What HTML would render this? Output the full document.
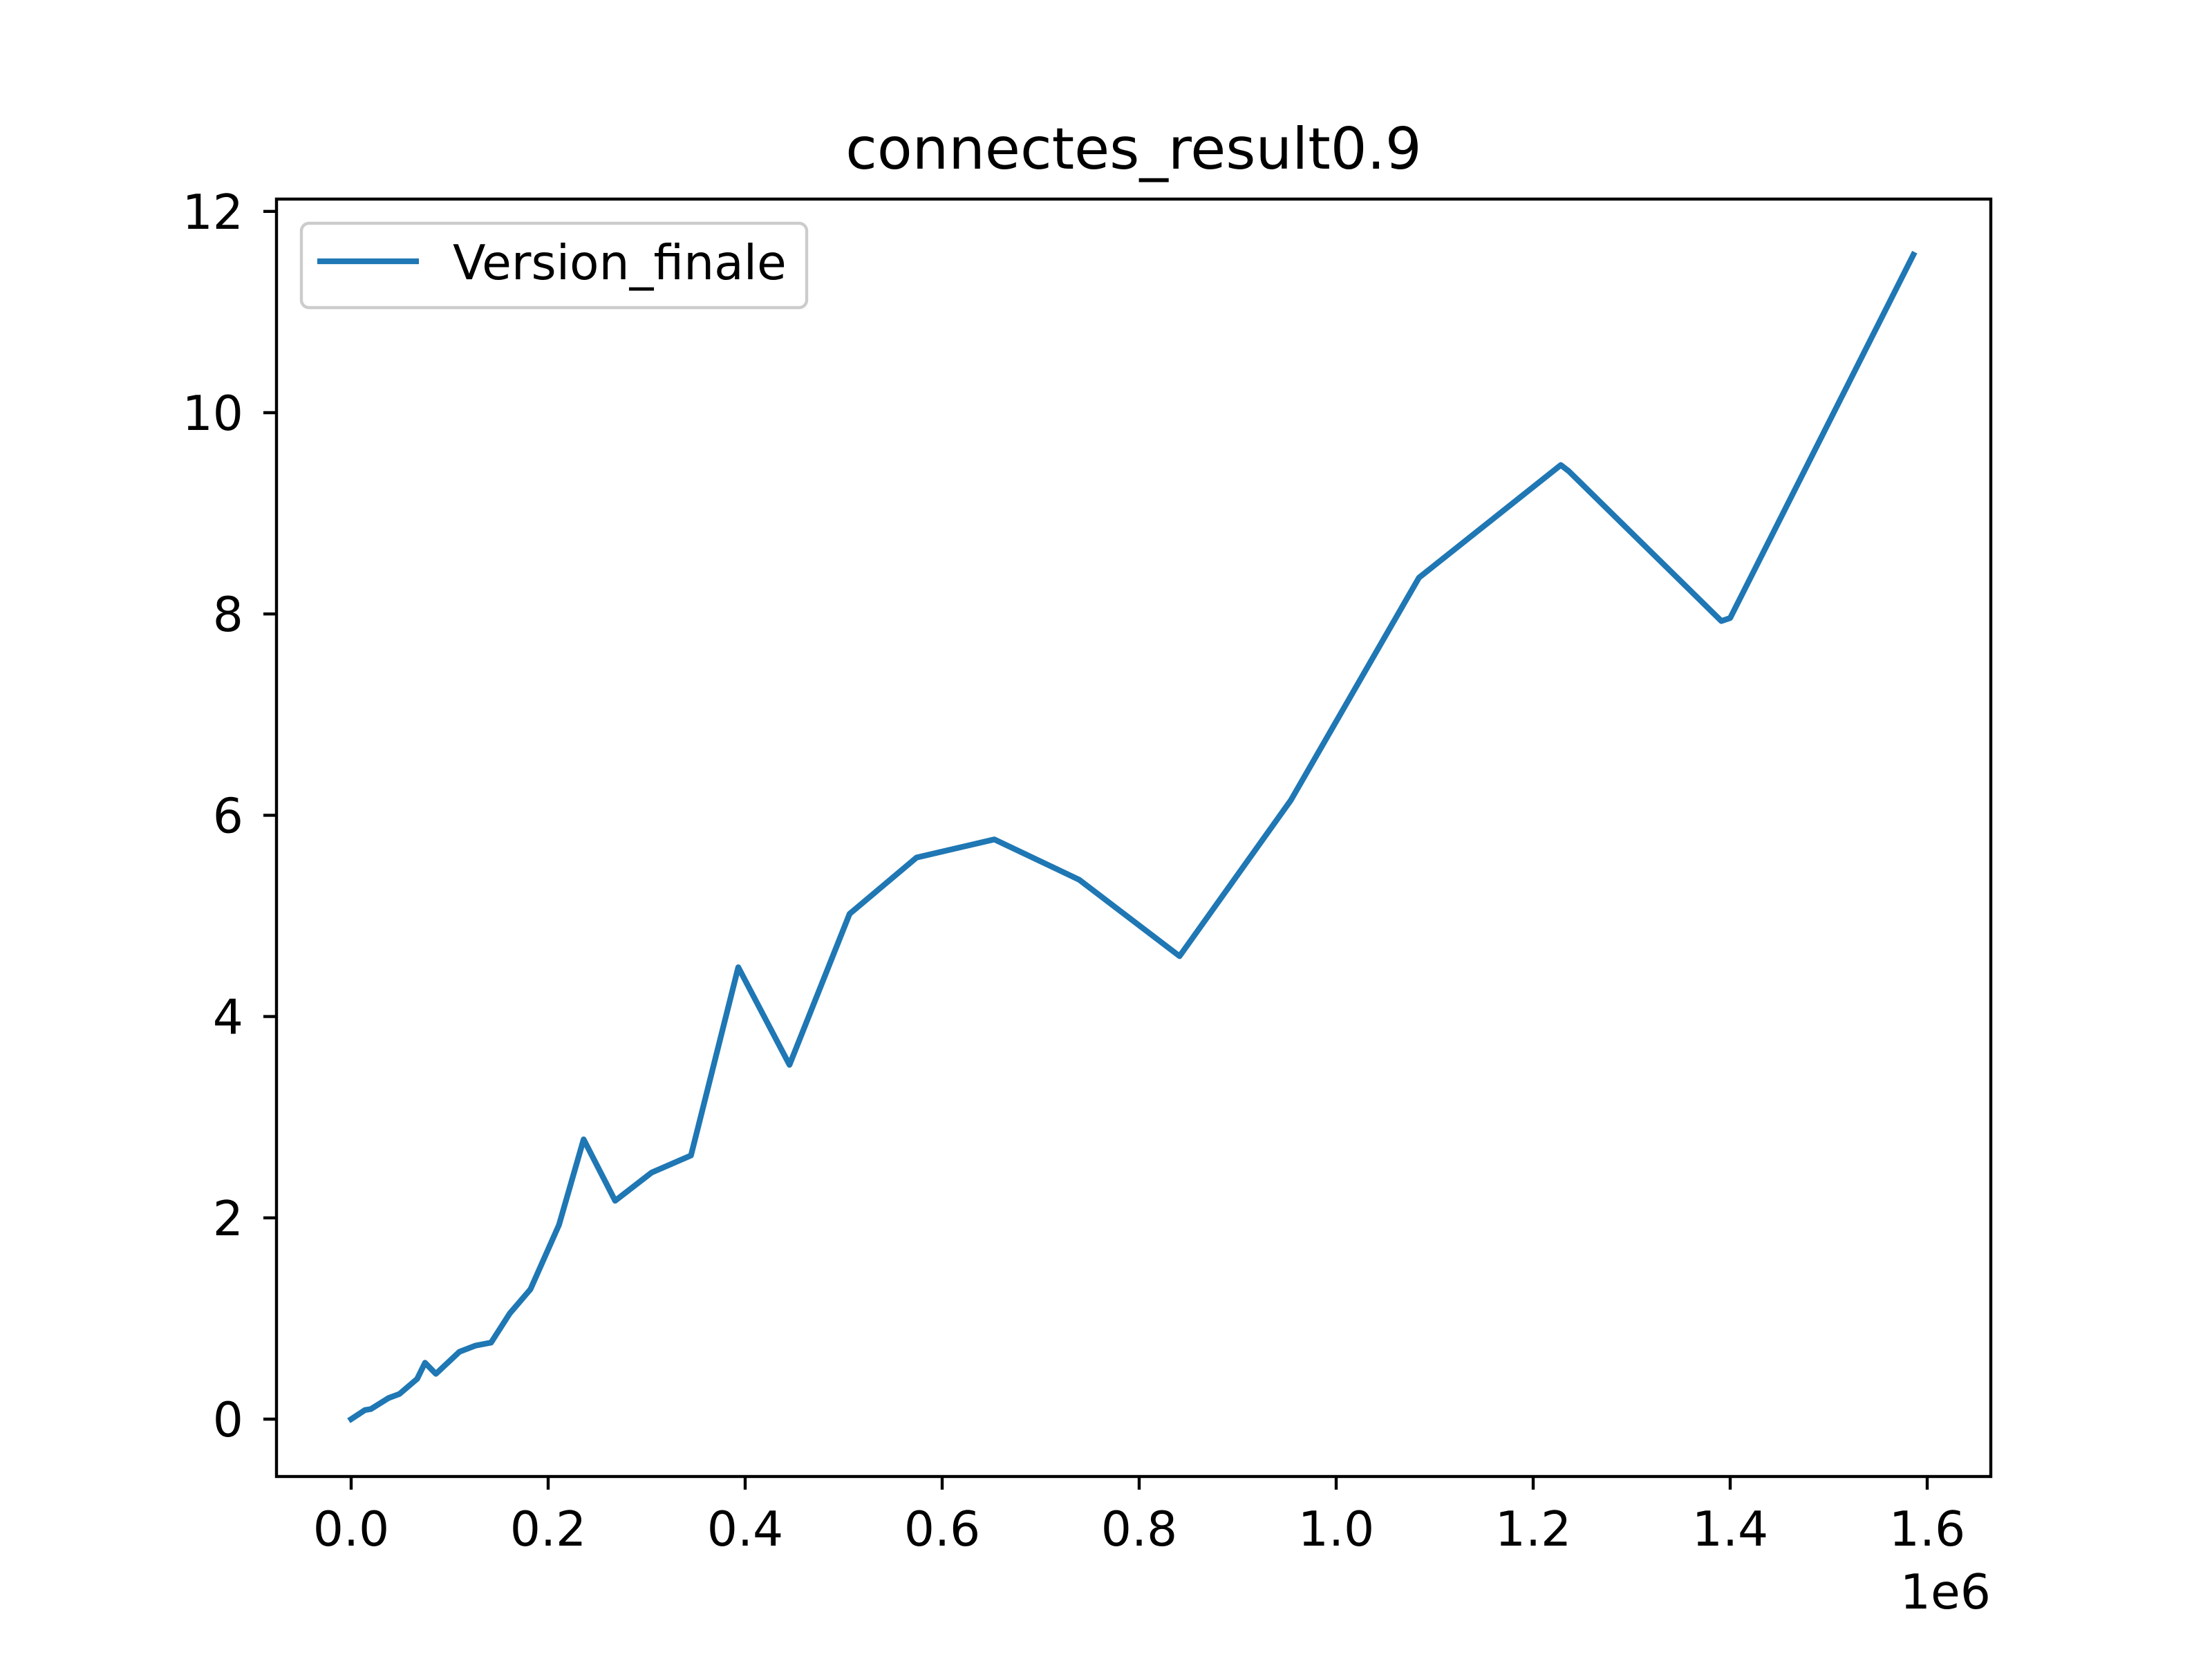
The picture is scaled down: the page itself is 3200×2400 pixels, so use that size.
<!DOCTYPE html>
<html><head><meta charset="utf-8"><style>
html,body{margin:0;padding:0;background:#fff}
svg{display:block}
text{font-family:"DejaVu Sans","Liberation Sans",sans-serif;fill:#000}
</style></head><body>
<svg id="chart" width="3200" height="2400" viewBox="0 0 3200 2400" xmlns="http://www.w3.org/2000/svg">
<rect x="0" y="0" width="3200" height="2400" fill="#fff"/>
<text x="1640" y="244" font-size="83" text-anchor="middle">connectes_result0.9</text>
<g id="xticks"></g>
<g id="yticks"></g>
<polyline id="series" fill="none" stroke="#1f77b4" stroke-width="8.3" stroke-linejoin="round" stroke-linecap="square"/>
<rect x="400" y="288" width="2480" height="1848" fill="none" stroke="#000" stroke-width="4.4"/>
<text x="2880" y="2327" font-size="69.5" text-anchor="end">1e6</text>
<g>
<rect x="436" y="323" width="731" height="122" rx="11" fill="#fff" fill-opacity="0.8" stroke="#ccc" stroke-width="4.4"/>
<line x1="459" y1="378" x2="606" y2="378" stroke="#1f77b4" stroke-width="8.3"/>
<text x="655" y="404" font-size="69.5">Version_finale</text>
</g>
</svg>
<script>
const xs = [0,0.014,0.02,0.038,0.049,0.067,0.075,0.086,0.110,0.126,0.142,0.161,0.182,0.211,0.236,0.268,0.305,0.345,0.393,0.445,0.506,0.574,0.653,0.739,0.841,0.954,1.084,1.228,1.236,1.391,1.400,1.586];
const ys = [0,0.09,0.1,0.21,0.25,0.40,0.56,0.45,0.67,0.73,0.76,1.05,1.29,1.93,2.78,2.17,2.45,2.62,4.49,3.52,5.02,5.58,5.76,5.36,4.60,6.15,8.36,9.48,9.42,7.93,7.96,11.57];
const xTicks = [0,0.2,0.4,0.6,0.8,1.0,1.2,1.4,1.6];
const xTickLabels = ["0.0","0.2","0.4","0.6","0.8","1.0","1.2","1.4","1.6"];
const yTicks = [0,2,4,6,8,10,12];
const yTickLabels = ["0","2","4","6","8","10","12"];
const NS="http://www.w3.org/2000/svg";
function X(v){return 508+v*1425;}
function Y(v){return 2053-v*145.6;}
const xg=document.getElementById('xticks'), yg=document.getElementById('yticks');
xTicks.forEach((t,i)=>{
  const l=document.createElementNS(NS,'line');
  l.setAttribute('x1',X(t));l.setAttribute('x2',X(t));l.setAttribute('y1',2136);l.setAttribute('y2',2155);
  l.setAttribute('stroke','#000');l.setAttribute('stroke-width','4.4');
  
  
  xg.appendChild(l);
  const tx=document.createElementNS(NS,'text');
  tx.setAttribute('x',X(t));tx.setAttribute('y',2236);tx.setAttribute('font-size','69.5');tx.setAttribute('text-anchor','middle');
  tx.textContent=xTickLabels[i];
  
  
  xg.appendChild(tx);
});
yTicks.forEach((t,i)=>{
  const l=document.createElementNS(NS,'line');
  l.setAttribute('x1',381);l.setAttribute('x2',400);l.setAttribute('y1',Y(t));l.setAttribute('y2',Y(t));
  l.setAttribute('stroke','#000');l.setAttribute('stroke-width','4.4');
  
  
  yg.appendChild(l);
  const tx=document.createElementNS(NS,'text');
  tx.setAttribute('x',352);tx.setAttribute('y',Y(t)+25);tx.setAttribute('font-size','69.5');tx.setAttribute('text-anchor','end');
  tx.textContent=yTickLabels[i];
  
  
  yg.appendChild(tx);
});
document.getElementById('series').setAttribute('points', xs.map((x,i)=>X(x)+','+Y(ys[i])).join(' '));
</script>
</body></html>
